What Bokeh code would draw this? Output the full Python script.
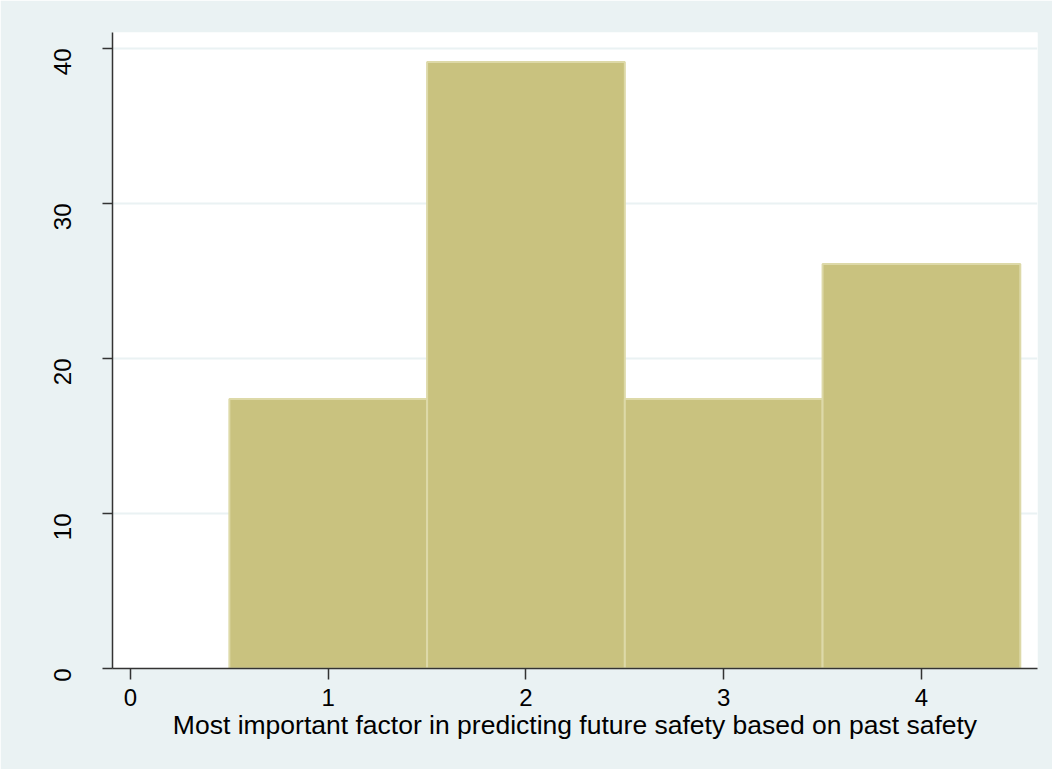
from bokeh.plotting import figure
from bokeh.models import Range1d, FixedTicker
from bokeh.embed import file_html
from bokeh.resources import INLINE
import math

categories = [1, 2, 3, 4]
percent = [17.39, 39.13, 17.39, 26.09]
x_ticks = [0, 1, 2, 3, 4]
y_ticks = [0, 10, 20, 30, 40]
x_title = "Most important factor in predicting future safety based on past safety"

BG = "#EAF2F3"
FONT = "Liberation Sans"

p = figure(width=1052, height=769, output_backend="svg", toolbar_location=None,
           x_range=Range1d(-0.091, 4.587), y_range=Range1d(0, 41.03),
           min_border_left=112, min_border_right=15, min_border_top=32, min_border_bottom=101)
p.border_fill_color = BG
p.background_fill_color = "white"
p.outline_line_color = None

p.vbar(x=categories, top=percent, width=1.0, bottom=0,
       fill_color="#C9C27F", line_color="#DDD9A8", line_width=2)

for ax in (p.xaxis, p.yaxis):
    ax.axis_line_color = "#333333"
    ax.axis_line_width = 1.5
    ax.major_tick_line_color = "#333333"
    ax.major_tick_line_width = 1.5
    ax.minor_tick_line_color = None
    ax.major_tick_in = 0
    ax.major_label_text_font = FONT
    ax.major_label_text_font_size = "24px"
    ax.major_label_text_color = "black"

p.xaxis.ticker = FixedTicker(ticks=x_ticks)
p.yaxis.ticker = FixedTicker(ticks=y_ticks)
p.xaxis.major_tick_out = 11
p.yaxis.major_tick_out = 10
p.xaxis.major_label_standoff = 9
p.yaxis.major_label_standoff = 40
p.yaxis.major_label_orientation = math.pi / 2

p.xaxis.axis_label = x_title
p.xaxis.axis_label_text_font = FONT
p.xaxis.axis_label_text_font_size = "26.5px"
p.xaxis.axis_label_text_font_style = "normal"
p.xaxis.axis_label_text_color = "black"
p.xaxis.axis_label_standoff = 1

p.xgrid.grid_line_color = None
p.ygrid.grid_line_color = BG
p.ygrid.grid_line_width = 2
p.ygrid.ticker = FixedTicker(ticks=y_ticks)

open("out.html", "w").write(file_html(p, INLINE))
